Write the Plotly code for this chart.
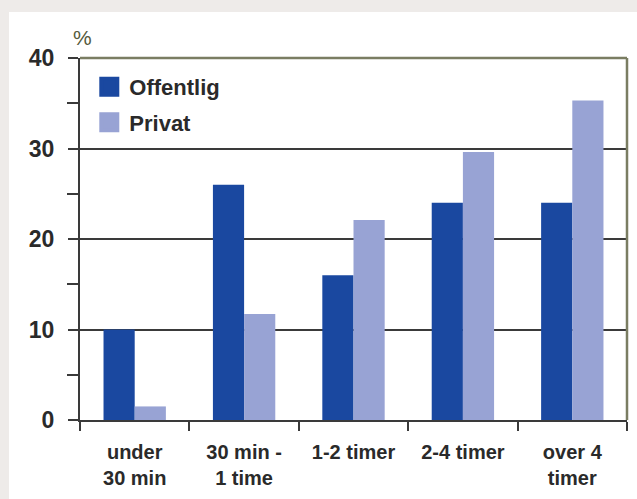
import plotly.graph_objects as go

categories = ["under<br>30 min", "30 min -<br>1 time", "1-2 timer", "2-4 timer", "over 4<br>timer"]
offentlig = [10, 26, 16, 24, 24]
privat = [1.5, 11.7, 22.1, 29.6, 35.3]
series_names = ["Offentlig", "Privat"]
series_colors = ["#1a48a0", "#98a3d4"]

W, H = 637, 499
L, R, T, B = 80, 10, 58, 79

fig = go.Figure()
for name, vals, col in zip(series_names, [offentlig, privat], series_colors):
    fig.add_trace(go.Bar(name=name, x=categories, y=vals, showlegend=False,
                         marker=dict(color=col, line=dict(width=0))))
for i, (name, col) in enumerate(zip(series_names, series_colors)):
    fig.add_trace(go.Scatter(name=name, x=[None], y=[None], mode="markers",
                             legendgroup="g%d" % i,
                             marker=dict(symbol="square", size=16, color=col,
                                         line=dict(color=col, width=4))))

font = "Liberation Sans, Arial, sans-serif"

fig.update_layout(
    width=W, height=H,
    margin=dict(l=L, r=R, t=T, b=B, pad=0),
    paper_bgcolor="#eeebe9",
    plot_bgcolor="rgba(0,0,0,0)",
    barmode="group",
    bargap=0.43,
    bargroupgap=0,
    font=dict(family=font, size=16, color="#2a2a2a", weight="bold"),
    showlegend=True,
    legend=dict(x=0.017, y=0.978, xanchor="left", yanchor="top",
                bgcolor="rgba(0,0,0,0)", font=dict(size=22, color="#2a2a2a", weight="bold"),
                traceorder="grouped", tracegroupgap=4, itemwidth=30, itemsizing="trace"),
    xaxis=dict(showgrid=False, showline=True, linecolor="#3a3a3a", linewidth=2,
               ticks="outside", ticklen=9, tickwidth=1.5, tickcolor="#3a3a3a",
               tickson="boundaries", tickfont=dict(size=20, color="#2a2a2a", weight="bold"),
               ticklabelstandoff=13, zeroline=False),
    yaxis=dict(range=[0, 40], dtick=10, showgrid=True, gridcolor="#3a3a3a", gridwidth=2,
               showline=True, linecolor="#3a3a3a", linewidth=2,
               ticks="outside", ticklen=10, tickwidth=2, tickcolor="#3a3a3a",
               tickfont=dict(size=23, color="#2a2a2a", weight="bold"), ticklabelstandoff=9,
               minor=dict(dtick=5, ticks="outside", ticklen=11, tickwidth=1.5,
                          tickcolor="#3a3a3a", showgrid=False),
               zeroline=False),
    shapes=[
        dict(type="rect", xref="paper", yref="paper",
             x0=-(L - 9) / (W - L - R), x1=(W - L) / (W - L - R),
             y0=-B / (H - T - B), y1=(H - 12 - B) / (H - T - B),
             fillcolor="white", line=dict(width=0), layer="below"),
        dict(type="line", xref="paper", yref="paper", x0=0, x1=1, y0=1, y1=1,
             line=dict(color="#7a7d62", width=2.5)),
        dict(type="line", xref="paper", yref="paper", x0=1, x1=1, y0=0, y1=1,
             line=dict(color="#7a7d62", width=2.5)),
    ],
    annotations=[
        dict(text="%", xref="paper", yref="paper", x=-0.016, y=(H - B - 38) / (H - T - B),
             xanchor="left", yanchor="middle", showarrow=False,
             font=dict(size=21, color="#555a3c", weight="normal")),
    ],
)

fig.write_html("out.html")
